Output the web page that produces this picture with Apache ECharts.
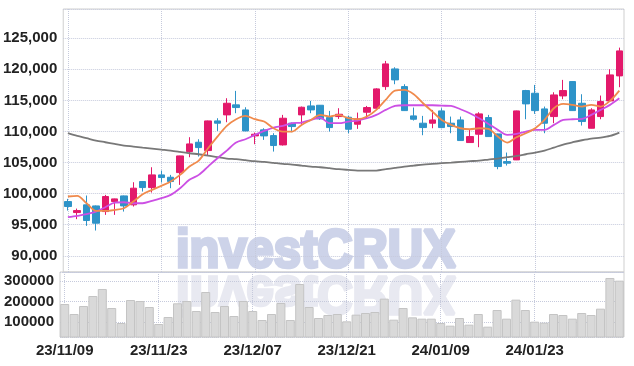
<!DOCTYPE html>
<html><head><meta charset="utf-8">
<script src="https://cdn.jsdelivr.net/npm/echarts@6/dist/echarts.min.js"></script>
<style>html,body{margin:0;padding:0;background:#fff}#c{width:634px;height:366px}</style>
</head><body><div id="c"></div>
<script>
const dates = ['23/11/09','23/11/10','23/11/13','23/11/14','23/11/15','23/11/16','23/11/17','23/11/20','23/11/21','23/11/22',
'23/11/23','23/11/24','23/11/27','23/11/28','23/11/29','23/11/30','23/12/01','23/12/04','23/12/05','23/12/06',
'23/12/07','23/12/08','23/12/11','23/12/12','23/12/13','23/12/14','23/12/15','23/12/18','23/12/19','23/12/20',
'23/12/21','23/12/22','23/12/26','23/12/27','23/12/28','24/01/02','24/01/03','24/01/04','24/01/05','24/01/08',
'24/01/09','24/01/10','24/01/11','24/01/12','24/01/15','24/01/16','24/01/17','24/01/18','24/01/19','24/01/22',
'24/01/23','24/01/24','24/01/25','24/01/26','24/01/29','24/01/30','24/01/31','24/02/01','24/02/02','24/02/05'];
const opens = [98730,96960,98200,98030,97120,98730,99640,98200,101950,100980,103020,102640,103390,106770,108270,106930,111700,112670,114280,113470,109290,110260,109340,107840,111330,112670,114110,114220,112240,112400,112290,111170,113100,113740,117220,120060,117220,112510,111330,111330,113310,111330,111860,108220,109560,112240,109610,105160,105430,116580,116150,113630,112400,115720,118030,114540,110520,112400,114920,118940];
const closes = [97930,97280,95680,95250,99540,99160,98030,100880,100980,103020,102590,101950,106070,108000,107410,111700,111330,114540,113850,110090,109560,109290,107740,112130,110790,113900,113470,112020,110630,112770,110360,112020,113850,116850,120870,118300,113360,111970,110630,111860,110630,110790,108540,109180,112830,109180,104360,104900,113310,114440,113360,111330,115880,116580,113360,111600,113470,114810,119100,122960];
const highs = [99160,97600,99700,98100,99800,99200,99700,101840,102000,104250,103720,103020,106100,109080,108750,111750,112130,115350,116530,113900,109830,110520,109720,112670,111430,114010,114920,114250,113310,113740,112510,113040,114110,116960,121350,120330,117600,113850,112510,113470,113740,112400,112400,110260,113100,112670,109650,106610,113350,116690,117490,114010,116310,118300,118050,115990,113740,115780,120010,123490];
const lows = [97280,95900,94820,94070,96590,96590,97120,97930,100340,100180,101790,100880,101410,105860,105970,106130,110090,111490,112940,110050,107950,108650,106770,107740,109880,111060,112940,111860,109990,112020,109720,110420,112020,113470,116690,117600,113300,111760,109400,110520,110520,109720,108500,108200,107470,109150,103930,104520,105400,111970,112830,109720,111330,115190,113330,110950,110500,111970,114900,117120];
const ma5 = [99540,99640,98460,97230,97230,97390,97660,98730,99910,100610,101250,101950,103020,104360,105320,107310,109180,110900,111970,112510,111970,111600,110520,109990,109990,111060,111860,112670,112400,112670,112130,111970,112400,113470,115080,116580,116690,115990,114540,113200,111860,111060,110520,110360,110520,110420,109180,108220,109080,109720,110520,111860,113740,114440,114280,114010,114280,114010,114920,116580];
const ma20 = [96210,96430,96690,97120,97820,98570,98620,98460,98460,98840,99270,99800,100880,102220,103020,104360,105700,106930,108220,108750,109450,110090,110630,110900,111330,111430,111860,112240,111330,111330,111600,111760,112130,112670,113470,114110,114220,114220,114220,114220,114150,114110,113580,112940,112130,111220,110260,109450,109610,109990,110260,110260,111060,111860,111970,112020,112670,113470,114280,115350];
const ma120 = [109720,109290,108920,108540,108270,108000,107740,107580,107410,107250,107090,106930,106720,106500,106340,106130,105860,105650,105540,105380,105220,105110,104950,104790,104680,104520,104360,104250,104090,103930,103820,103720,103720,103720,103930,104150,104360,104520,104680,104790,104900,105000,105110,105220,105320,105490,105650,105860,106070,106340,106610,106930,107410,107900,108270,108590,108860,109020,109290,109830];
const volumes = [188500,139250,178650,227900,262400,168800,94900,208200,203300,173700,90000,124500,191800,203300,154000,247600,149100,178650,129400,203300,154000,109700,139250,193400,109700,287000,173700,119500,134300,139250,103120,135960,144170,149100,214800,111330,168800,122820,116250,116250,94900,81800,119540,86700,139250,76850,158950,116250,209850,158950,101480,96550,139250,134300,116250,144170,134300,165500,316600,303400];

const candleData = opens.map((o, i) => [o, closes[i], lows[i], highs[i]]);
const labelFont = {fontFamily: '"Liberation Sans Narrow", "Liberation Sans", sans-serif', fontWeight: 'bold', fontSize: 15, color: '#222'};
const splitStyle = {show: true, lineStyle: {color: '#c6cadc', type: 'dotted', width: 1}};
const wmStyle = {x: 0, y: -19, text: 'investCRUX', verticalAlign: 'middle',
  font: '900 54px Liberation Sans', lineWidth: 3.5, lineJoin: 'round'};
const chart = echarts.init(document.getElementById('c'), null, {renderer: 'canvas'});
chart.setOption({
  animation: false,
  backgroundColor: '#fff',
  grid: [
    {left: 60, right: 10, top: 9, height: 263, show: true, borderColor: '#cfcfcf', borderWidth: 1},
    {left: 60, right: 10, top: 272, height: 65, show: true, borderColor: '#cfcfcf', borderWidth: 1}
  ],
  xAxis: [
    {type: 'category', gridIndex: 0, data: dates, boundaryGap: true,
     axisLine: {show: false}, axisTick: {show: false}, axisLabel: {show: false, interval: 9},
     splitLine: Object.assign({interval: 9, alignWithLabel: true}, splitStyle)},
    {type: 'category', gridIndex: 1, data: dates, boundaryGap: true,
     axisLine: {show: false}, axisTick: {show: false},
     axisLabel: Object.assign({interval: 9, margin: 6}, labelFont),
     splitLine: Object.assign({interval: 9, alignWithLabel: true}, splitStyle)}
  ],
  yAxis: [
    {type: 'value', gridIndex: 0, min: 87400, max: 129700, splitNumber: 8, scale: true,
     axisLine: {show: false}, axisTick: {show: false},
     axisLabel: Object.assign({margin: 6, showMinLabel: false, showMaxLabel: false,
       formatter: v => v.toLocaleString('en-US')}, labelFont),
     splitLine: splitStyle},
    {type: 'value', gridIndex: 1, min: 26000, max: 346000, splitNumber: 3,
     axisLine: {show: false}, axisTick: {show: false},
     axisLabel: Object.assign({margin: 6, showMinLabel: false, showMaxLabel: false,
       formatter: v => String(v)}, labelFont),
     splitLine: splitStyle}
  ],
  graphic: [
    {type: 'text', x: 176, y: 271, scaleX: 0.905, z: -1, silent: true,
     style: Object.assign({fill: '#cdd3e9', stroke: '#cdd3e9'}, wmStyle)},
    {type: 'text', x: 176, y: 273, scaleX: 0.905, scaleY: -1, z: -1, silent: true,
     style: Object.assign({fill: '#e8e9f1', stroke: '#e8e9f1'}, wmStyle)}
  ],
  series: [
    {type: 'candlestick', xAxisIndex: 0, yAxisIndex: 0, data: candleData, barWidth: 7,
     itemStyle: {color: '#e3196b', color0: '#2e93c8', borderColor: '#e3196b', borderColor0: '#2e93c8', borderWidth: 1}},
    {type: 'line', xAxisIndex: 0, yAxisIndex: 0, data: ma120, showSymbol: false, smooth: 0.3,
     lineStyle: {color: '#787878', width: 1.8}},
    {type: 'line', xAxisIndex: 0, yAxisIndex: 0, data: ma20, showSymbol: false, smooth: 0.3,
     lineStyle: {color: '#cc4fe4', width: 1.8}},
    {type: 'line', xAxisIndex: 0, yAxisIndex: 0, data: ma5, showSymbol: false, smooth: 0.3,
     lineStyle: {color: '#f08a4c', width: 1.8}},
    {type: 'bar', xAxisIndex: 1, yAxisIndex: 1, data: volumes, barCategoryGap: '4%',
     itemStyle: {color: '#d9d9d9', borderColor: '#c4c4c4', borderWidth: 1}}
  ]
});
</script></body></html>
